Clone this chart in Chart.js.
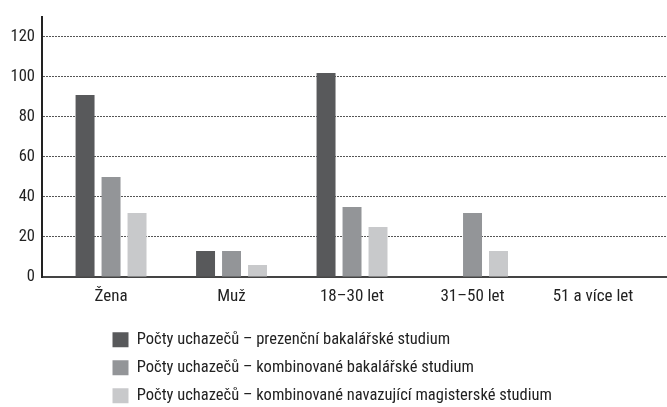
<!DOCTYPE html>
<html>
<head>
<meta charset="utf-8">
<script src="https://cdn.jsdelivr.net/npm/chart.js@4/dist/chart.umd.min.js"></script>
<style>
  html, body { margin: 0; padding: 0; background: #fff; }
</style>
</head>
<body>
<canvas id="myChart" width="667" height="407"></canvas>
<script>
let categories = ["Žena", "Muž", "18–30 let", "31–50 let", "51 a více let"];
let seriesNames = [
  "Počty uchazečů – prezenční bakalářské studium",
  "Počty uchazečů – kombinované bakalářské studium",
  "Počty uchazečů – kombinované navazující magisterské studium",
];
let prezencniBc = [91, 13, 102, 0, 0];
let kombinovaneBc = [50, 13, 35, 32, 0];
let kombinovaneMgr = [32, 6, 25, 13, 0];
let yTicks = [0, 20, 40, 60, 80, 100, 120];
let barColors = ["#58595b", "#939598", "#c8c9cb"];

let fontFamily = "'Roboto Condensed', Roboto, sans-serif";

function toPoints(values) {
  return values.map((v, i) => ({ x: i, y: v }));
}

// legend sits left-aligned under the plot, one item per row
let legendPlacer = {
  id: "legendPlacer",
  afterLayout(chart) {
    let lg = chart.legend;
    lg.left = 101;
    lg.right = 667;
    lg.top = 320;
  },
};

let ctx = document.getElementById("myChart");

let graphData = {
  type: "bar",
  data: {
    datasets: [
      { label: seriesNames[0], data: toPoints(prezencniBc), backgroundColor: barColors[0] },
      { label: seriesNames[1], data: toPoints(kombinovaneBc), backgroundColor: barColors[1] },
      { label: seriesNames[2], data: toPoints(kombinovaneMgr), backgroundColor: barColors[2] },
    ],
  },
  options: {
    responsive: false,
    animation: false,
    layout: { padding: { top: 15, left: 0, right: 0, bottom: 0 } },
    datasets: {
      bar: { categoryPercentage: 0.647, barPercentage: 0.73, borderWidth: 0 },
    },
    plugins: {
      tooltip: { enabled: false },
      legend: {
        position: "bottom",
        align: "start",
        labels: {
          boxWidth: 16,
          boxHeight: 15,
          padding: 11.5,
          color: "#222",
          font: { family: fontFamily, size: 16.5 },
        },
      },
    },
    scales: {
      x: {
        type: "linear",
        offset: false,
        bounds: "data",
        min: -0.573,
        max: 4.614,
        afterBuildTicks(scale) {
          scale.ticks = categories.map((c, i) => ({ value: i }));
        },
        afterFit(scale) {
          scale.height = 36;
        },
        grid: { display: false, drawTicks: false, offset: false },
        border: { display: true, color: "#444", width: 2 },
        ticks: {
          padding: 10,
          color: "#222",
          font: { family: fontFamily, size: 17 },
          callback: (v) => categories[v],
        },
      },
      y: {
        min: 0,
        max: 130,
        afterBuildTicks(scale) {
          scale.ticks = yTicks.map((v) => ({ value: v }));
        },
        afterFit(scale) {
          scale.width = 42;
        },
        grid: {
          drawTicks: false,
          color: (c) => (c.tick && c.tick.value === 0 ? "rgba(0,0,0,0)" : "#555"),
          lineWidth: 1,
        },
        border: { display: true, color: "#222", width: 2, dash: [2, 1] },
        ticks: {
          padding: 7,
          color: "#222",
          font: { family: fontFamily, size: 16.5 },
        },
      },
    },
  },
  plugins: [legendPlacer],
};

let myChart = new Chart(ctx, graphData);
</script>
</body>
</html>
